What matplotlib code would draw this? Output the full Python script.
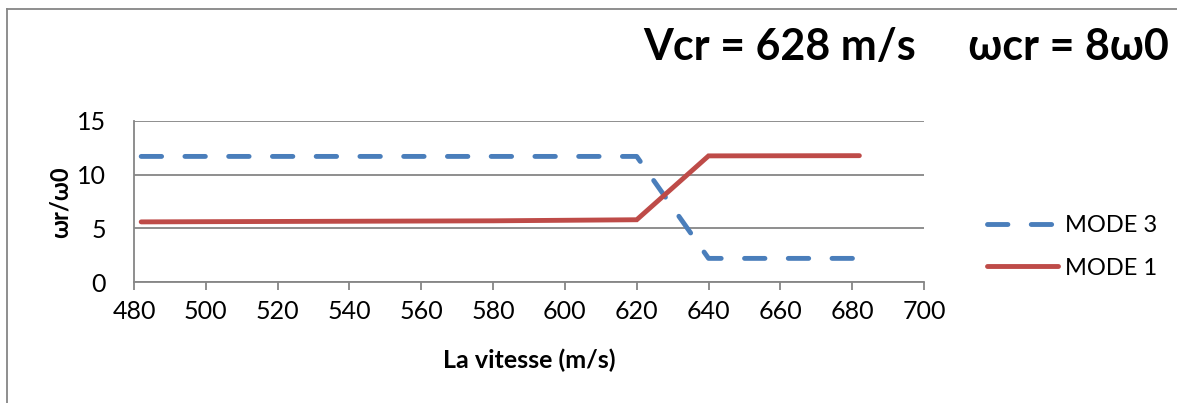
import numpy as np
import matplotlib.pyplot as plt
from matplotlib.lines import Line2D

plt.rcParams['font.family'] = ['Lato', 'DejaVu Sans']

# donnees
vitesse = [482, 500, 520, 540, 560, 580, 600, 620, 640, 660, 682]
mode3 = [11.7, 11.7, 11.7, 11.7, 11.7, 11.7, 11.7, 11.7, 2.2, 2.2, 2.2]
mode1 = [5.6, 5.62, 5.64, 5.66, 5.68, 5.7, 5.75, 5.8, 11.75, 11.76, 11.77]
xticks = np.arange(480, 701, 20)
yticks = [0, 5, 10, 15]

bleu = '#4A7EBB'
rouge = '#BE4B48'
gris = '#868686'

W, H = 1177, 403
fig = plt.figure(figsize=(W/100, H/100), dpi=100)
ax = fig.add_axes([134/W, 1-282/H, (924-134)/W, (282-121)/H])

l3, = ax.plot(vitesse, mode3, color=bleu, lw=3.5, dashes=(4.2, 4.8),
              dash_capstyle='round', solid_capstyle='round', label='MODE 3')
l1, = ax.plot(vitesse, mode1, color=rouge, lw=3.5, solid_capstyle='round',
              solid_joinstyle='miter', label='MODE 1')

ax.set_xlim(480, 700)
ax.set_ylim(0, 15)
ax.set_xticks(xticks)
ax.set_yticks(yticks)
ax.grid(axis='y', color=gris, lw=1.3)
ax.set_axisbelow(True)
for s in ['top', 'right']:
    ax.spines[s].set_visible(False)
for s in ['left', 'bottom']:
    ax.spines[s].set_color(gris)
    ax.spines[s].set_linewidth(1.3)
ax.tick_params(axis='x', length=6, width=1.3, color=gris, labelsize=18, pad=7)
ax.tick_params(axis='y', length=0, labelsize=18, pad=20)

fig.text(529/W, 1-360/H, 'La vitesse (m/s)', ha='center', va='center',
         fontsize=18, fontweight='bold')
fig.text(60/W, 1-202/H, 'ωr/ω0', ha='center', va='center', rotation=90,
         fontsize=17, fontweight='bold')
fig.text(643/W, 1-47/H, 'Vcr = 628 m/s     ωcr = 8ω0', ha='left', va='center',
         fontsize=31, fontweight='bold')

fig.legend(handles=[l3, l1], loc='center left', bbox_to_anchor=(987/W, 1-247/H),
           frameon=False, fontsize=17, handlelength=3.0, handletextpad=0.3,
           labelspacing=0.9, borderpad=0, borderaxespad=0)

# cadre
fig.add_artist(Line2D([7/W, 7/W], [0, 1-9/H], color=gris, lw=1.3))
fig.add_artist(Line2D([7/W, 1], [1-9/H, 1-9/H], color=gris, lw=1.3))

fig.savefig('out.png', dpi=100)
